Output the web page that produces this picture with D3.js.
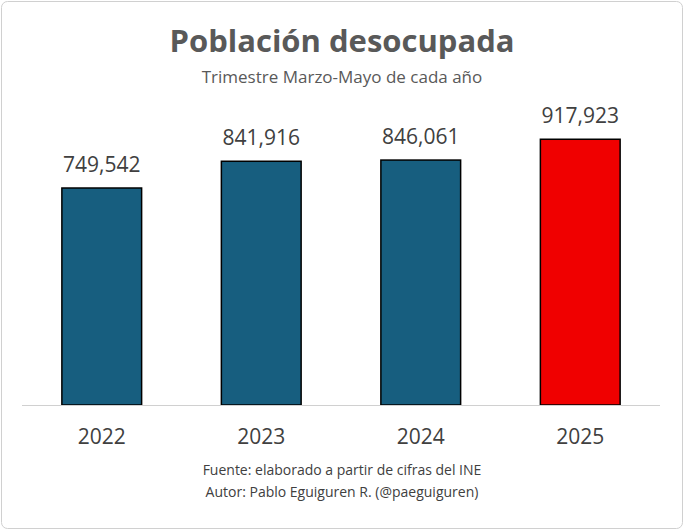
<!DOCTYPE html>
<html><head><meta charset="utf-8">
<script src="https://cdn.jsdelivr.net/npm/d3@7"></script>
<style>body{margin:0;background:#fff}</style>
</head><body>
<svg id="chart" width="684" height="530"></svg>
<script>
let years = ["2022", "2023", "2024", "2025"]
let values = [749542, 841916, 846061, 917923]
let colors = ["#175E7F", "#175E7F", "#175E7F", "#F00000"]

let svg = d3.select("#chart")
let font = "Aptos, 'Open Sans', 'Liberation Sans', sans-serif"

svg.append("rect").attr("x", 1.5).attr("y", 1.5).attr("width", 681).attr("height", 527)
    .attr("rx", 6).attr("fill", "#fff").attr("stroke", "#d0d0d0")

let x = d3.scaleBand().domain(years).range([22, 660]).paddingInner(0.5).paddingOuter(0.25)
let y = d3.scaleLinear().domain([0, 1000000]).range([405, 115.5])

svg.selectAll(".bar").data(values).enter().append("rect")
    .attr("x", (d, i) => x(years[i]))
    .attr("y", d => y(d))
    .attr("width", x.bandwidth())
    .attr("height", d => y(0) - y(d))
    .attr("fill", (d, i) => colors[i])
    .attr("stroke", "#000").attr("stroke-width", 1.5)

svg.selectAll(".lab").data(values).enter().append("text")
    .attr("x", (d, i) => x(years[i]) + x.bandwidth() / 2)
    .attr("y", d => y(d) - 16)
    .attr("text-anchor", "middle").attr("font-family", font).attr("font-size", 21).attr("fill", "#404040")
    .text(d => d3.format(",")(d))

svg.append("line").attr("x1", 22).attr("x2", 660).attr("y1", 405.5).attr("y2", 405.5)
    .attr("stroke", "#d0d0d0").attr("stroke-width", 1)

svg.selectAll(".yr").data(years).enter().append("text")
    .attr("x", d => x(d) + x.bandwidth() / 2).attr("y", 444)
    .attr("text-anchor", "middle").attr("font-family", font).attr("font-size", 21).attr("fill", "#404040")
    .text(d => d)

svg.append("text").attr("x", 342).attr("y", 52).attr("text-anchor", "middle")
    .attr("font-family", font).attr("font-size", 31).attr("font-weight", "bold").attr("fill", "#595959")
    .text("Población desocupada")
svg.append("text").attr("x", 342).attr("y", 83).attr("text-anchor", "middle")
    .attr("font-family", font).attr("font-size", 17).attr("fill", "#595959")
    .text("Trimestre Marzo-Mayo de cada año")
svg.append("text").attr("x", 342).attr("y", 475).attr("text-anchor", "middle")
    .attr("font-family", font).attr("font-size", 14).attr("fill", "#404040")
    .text("Fuente: elaborado a partir de cifras del INE")
svg.append("text").attr("x", 342).attr("y", 497).attr("text-anchor", "middle")
    .attr("font-family", font).attr("font-size", 14).attr("fill", "#404040")
    .text("Autor: Pablo Eguiguren R. (@paeguiguren)")
</script>
</body></html>
